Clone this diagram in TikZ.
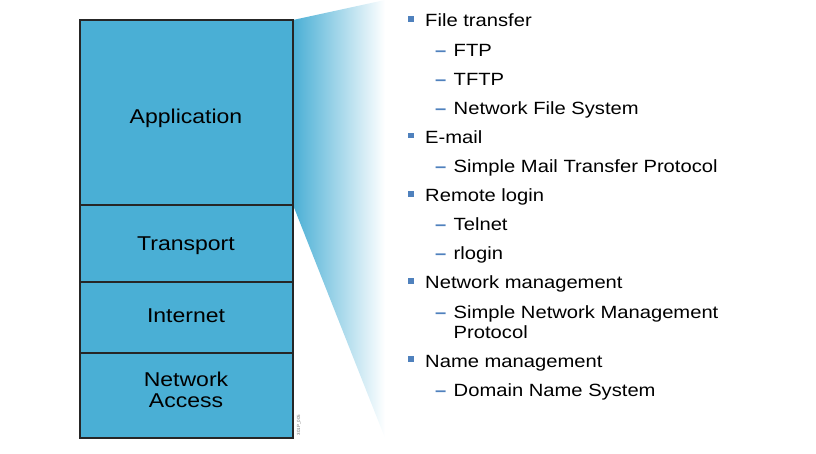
\documentclass[tikz,border=0pt]{standalone}
\usepackage{fontspec}
\setmainfont{Liberation Sans}
\usetikzlibrary{positioning}

\definecolor{layerblue}{RGB}{74,175,213}
\definecolor{bulletblue}{RGB}{79,129,189}

\tikzset{
    layertext/.style={inner sep=0pt, align=center, xscale=1.15,
        font=\fontsize{20}{21.5}\selectfont},
    itemtext/.style={anchor=base west, inner sep=0pt, align=left, xscale=1.14,
        font=\fontsize{17.7}{20}\selectfont},
    bulletbox/.style={rectangle, fill=bulletblue, inner sep=0pt,
        minimum width=6pt, minimum height=5.5pt},
    subdash/.style={itemtext, text=bulletblue, font=\fontsize{17.7}{20}\selectfont\bfseries}
}

\begin{document}
\begin{tikzpicture}[x=1pt, y=-1pt]
    \useasboundingbox (0,0) rectangle (816,454);

    % Fan out of the application layer
    \shade[left color=layerblue, right color=white]
        (293,20) -- (385,0) -- (385,438) -- (293,205) -- cycle;

    % Layer stack
    \fill[layerblue] (80,20) rectangle (293,438);
    \draw[line width=1.4pt, black!85] (80,205) -- (293,205);
    \draw[line width=1.4pt, black!85] (80,282) -- (293,282);
    \draw[line width=1.4pt, black!85] (80,353) -- (293,353);
    \draw[line width=1.4pt, black!85] (80,20) rectangle (293,438);

    \node[layertext, anchor=base] (app) at (186,123.3) {Application};
    \node[layertext, anchor=base] (trans) at (186,250.5) {Transport};
    \node[layertext, anchor=base] (inet) at (186,322.5) {Internet};
    \node[layertext, anchor=base] (netacc) at (186,407.7) {Network\\Access};

    \node[rotate=90, text=black!55, inner sep=0pt,
        font=\fontsize{4.5}{5}\selectfont] (code) at (299,425) {301P\_005};

    % Protocol list
    \node[bulletbox] (b1) at (410.7,19.2) {};
    \node[itemtext] (ft) at (425,27) {File transfer};
    \node[subdash] (d1) at (435,56.1) {–};
    \node[itemtext] (ftp) at (453.5,56.1) {FTP};
    \node[subdash] (d2) at (435,85.2) {–};
    \node[itemtext] (tftp) at (453.5,85.2) {TFTP};
    \node[subdash] (d3) at (435,114.3) {–};
    \node[itemtext] (nfs) at (453.5,114.3) {Network File System};

    \node[bulletbox] (b2) at (410.7,135.6) {};
    \node[itemtext] (mail) at (425,143.4) {E-mail};
    \node[subdash] (d4) at (435,172.5) {–};
    \node[itemtext] (smtp) at (453.5,172.5) {Simple Mail Transfer Protocol};

    \node[bulletbox] (b3) at (410.7,193.8) {};
    \node[itemtext] (rlog) at (425,201.6) {Remote login};
    \node[subdash] (d5) at (435,230.7) {–};
    \node[itemtext] (telnet) at (453.5,230.7) {Telnet};
    \node[subdash] (d6) at (435,259.8) {–};
    \node[itemtext] (rlogin) at (453.5,259.8) {rlogin};

    \node[bulletbox] (b4) at (410.7,281.1) {};
    \node[itemtext] (nm) at (425,288.9) {Network management};
    \node[subdash] (d7) at (435,318) {–};
    \node[itemtext] (snmp) at (453.5,338) {Simple Network Management\\Protocol};

    \node[bulletbox] (b5) at (410.7,359.2) {};
    \node[itemtext] (name) at (425,367) {Name management};
    \node[subdash] (d8) at (435,396.5) {–};
    \node[itemtext] (dns) at (453.5,396.5) {Domain Name System};
\end{tikzpicture}
\end{document}
